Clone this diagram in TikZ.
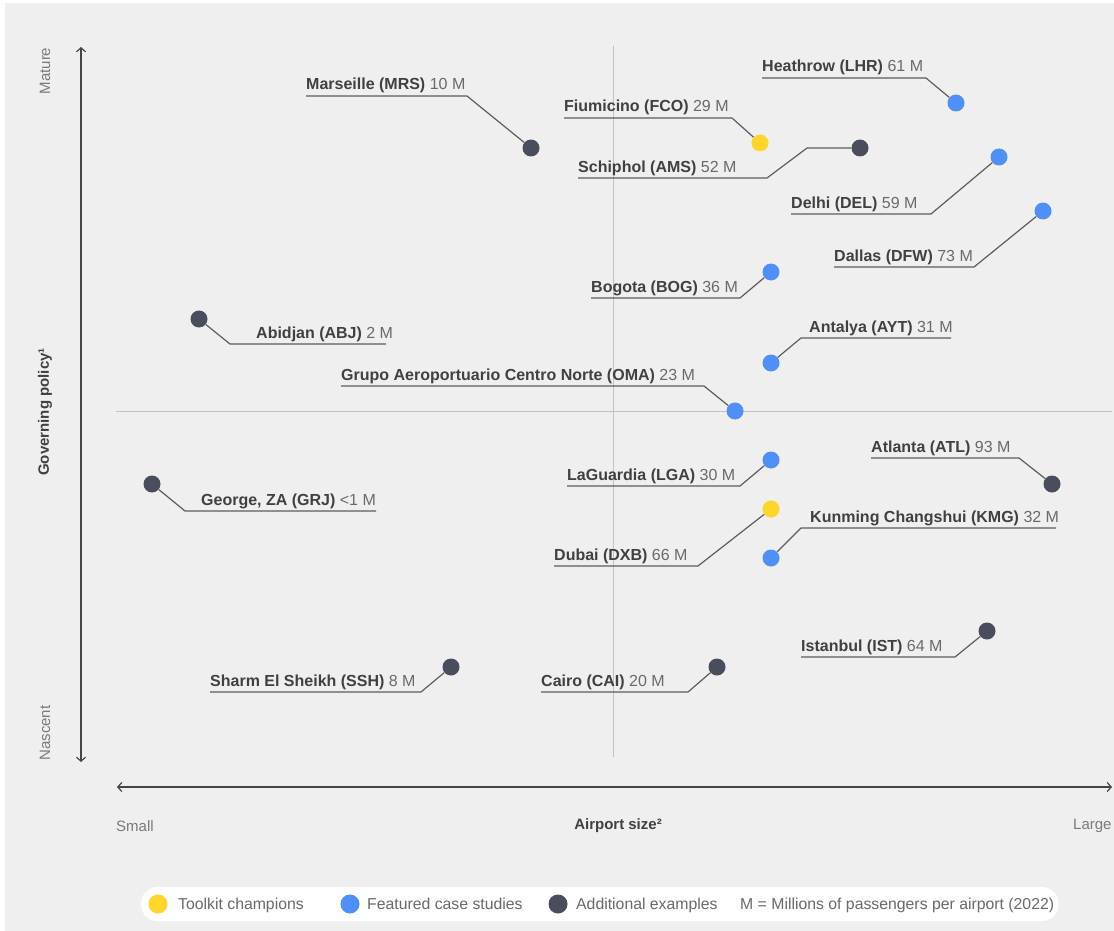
\documentclass[tikz,border=0pt]{standalone}
\usepackage{fontspec}
\setmainfont{Liberation Sans}
\usetikzlibrary{arrows.meta}
\definecolor{bgc}{HTML}{EFEFEF}
\definecolor{txtd}{HTML}{404040}
\definecolor{txtl}{HTML}{6A6A6A}
\definecolor{axtxt}{HTML}{7A7A7A}
\definecolor{leadc}{HTML}{5C5C5C}
\definecolor{axc}{HTML}{454545}
\definecolor{quadc}{HTML}{C2C2C2}
\definecolor{dotY}{HTML}{FFD52A}
\definecolor{dotB}{HTML}{4F8FF8}
\definecolor{dotD}{HTML}{4A4E5C}
\newcommand\aplabel[2]{{\color{txtd}\bfseries #1} {\color{txtl}#2}}
\tikzset{
  apdot/.style={circle,inner sep=0pt,minimum size=17pt},
  ydot/.style={apdot,fill=dotY},
  bdot/.style={apdot,fill=dotB},
  ddot/.style={apdot,fill=dotD},
  leader/.style={draw=leadc,line width=1.2pt},
  lbltext/.style={anchor=base west,inner sep=0pt,font=\fontsize{16}{19}\selectfont},
  axlabel/.style={inner sep=0pt,text=axtxt,font=\fontsize{15}{18}\selectfont},
  axarrow/.style={draw=axc,line width=1.2pt,{Straight Barb[length=4pt,width=9pt]}-{Straight Barb[length=4pt,width=9pt]}},
  quad/.style={draw=quadc,line width=1pt},
  legdot/.style={circle,inner sep=0pt,minimum size=19pt},
  legtext/.style={anchor=base west,inner sep=0pt,text=txtl,font=\fontsize{15.8}{18}\selectfont}
}
\begin{document}
\begin{tikzpicture}[x=1pt,y=-1pt]
\useasboundingbox (0,0) rectangle (1114,931);
\fill[white] (0,0) rectangle (1114,931);
\fill[bgc] (5,3) rectangle (1114,931);
% quadrant lines
\coordinate (qt) at (613,46); \coordinate (qb) at (613,757);
\coordinate (ql) at (116,411); \coordinate (qr) at (1112,411);
\draw[quad] (qt) -- (qb);
\draw[quad] (ql) -- (qr);
% axes
\coordinate (yt) at (81,47); \coordinate (yb) at (81,762);
\coordinate (xl) at (117,787); \coordinate (xr) at (1112,787);
\draw[axarrow] (yb) -- (yt);
\draw[axarrow] (xl) -- (xr);
\node[axlabel,rotate=90] (mature) at (45,71) {Mature};
\node[axlabel,rotate=90] (nascent) at (45,733) {Nascent};
\node[axlabel,rotate=90,text=txtd,font=\fontsize{15}{18}\selectfont\bfseries] (gov) at (45,412) {Governing policy¹};
\node[axlabel,anchor=west] (small) at (116,826) {Small};
\node[axlabel,anchor=west] (large) at (1073,826) {Large};
\node[axlabel,text=txtd,font=\fontsize{15}{18}\selectfont\bfseries] (size) at (618,826) {Airport size²};
% dots
\node[ddot] (mrs) at (531,148) {};
\node[bdot] (lhr) at (956,103) {};
\node[ydot] (fco) at (760,143) {};
\node[ddot] (ams) at (860,148) {};
\node[bdot] (del) at (999,157) {};
\node[bdot] (dfw) at (1043,211) {};
\node[bdot] (bog) at (771,272) {};
\node[ddot] (abj) at (199,319) {};
\node[bdot] (ayt) at (771,363) {};
\node[bdot] (oma) at (735,411) {};
\node[bdot] (lga) at (771,460) {};
\node[ddot] (atl) at (1052,484) {};
\node[ddot] (grj) at (152,484) {};
\node[ydot] (dxb) at (771,509) {};
\node[bdot] (kmg) at (771,558) {};
\node[ddot] (ist) at (987,631) {};
\node[ddot] (ssh) at (451,667) {};
\node[ddot] (cai) at (717,667) {};
% leader coordinates
\coordinate (mrsA) at (306,96); \coordinate (mrsB) at (467,96);
\coordinate (lhrA) at (762,78); \coordinate (lhrB) at (926,78);
\coordinate (fcoA) at (564,118); \coordinate (fcoB) at (732,118);
\coordinate (amsA) at (578,178); \coordinate (amsB) at (767,178); \coordinate (amsC) at (807,148);
\coordinate (delA) at (791,214); \coordinate (delB) at (931,214);
\coordinate (dfwA) at (834,267); \coordinate (dfwB) at (974,267);
\coordinate (bogA) at (591,298); \coordinate (bogB) at (740,298);
\coordinate (abjB) at (230,344); \coordinate (abjA) at (386,344);
\coordinate (aytB) at (801,338); \coordinate (aytA) at (951,338);
\coordinate (omaA) at (341,386); \coordinate (omaB) at (704,386);
\coordinate (lgaA) at (567,486); \coordinate (lgaB) at (740,486);
\coordinate (atlA) at (871,458); \coordinate (atlB) at (1019,458);
\coordinate (grjB) at (185,511); \coordinate (grjA) at (376,511);
\coordinate (dxbA) at (554,566); \coordinate (dxbB) at (698,566);
\coordinate (kmgB) at (801,528); \coordinate (kmgA) at (1056,528);
\coordinate (istA) at (801,657); \coordinate (istB) at (955,657);
\coordinate (sshA) at (210,692); \coordinate (sshB) at (421,692);
\coordinate (caiA) at (541,692); \coordinate (caiB) at (688,692);
% leaders
\draw[leader] (mrsA) -- (mrsB) -- (mrs);
\draw[leader] (lhrA) -- (lhrB) -- (lhr);
\draw[leader] (fcoA) -- (fcoB) -- (fco);
\draw[leader] (amsA) -- (amsB) -- (amsC) -- (ams);
\draw[leader] (delA) -- (delB) -- (del);
\draw[leader] (dfwA) -- (dfwB) -- (dfw);
\draw[leader] (bogA) -- (bogB) -- (bog);
\draw[leader] (abj) -- (abjB) -- (abjA);
\draw[leader] (ayt) -- (aytB) -- (aytA);
\draw[leader] (omaA) -- (omaB) -- (oma);
\draw[leader] (lgaA) -- (lgaB) -- (lga);
\draw[leader] (atlA) -- (atlB) -- (atl);
\draw[leader] (grj) -- (grjB) -- (grjA);
\draw[leader] (dxbA) -- (dxbB) -- (dxb);
\draw[leader] (kmg) -- (kmgB) -- (kmgA);
\draw[leader] (istA) -- (istB) -- (ist);
\draw[leader] (sshA) -- (sshB) -- (ssh);
\draw[leader] (caiA) -- (caiB) -- (cai);
% labels
\node[lbltext] (mrsL) at (306,90) {\aplabel{Marseille (MRS)}{10 M}};
\node[lbltext] (lhrL) at (762,72) {\aplabel{Heathrow (LHR)}{61 M}};
\node[lbltext] (fcoL) at (564,112) {\aplabel{Fiumicino (FCO)}{29 M}};
\node[lbltext] (amsL) at (578,172) {\aplabel{Schiphol (AMS)}{52 M}};
\node[lbltext] (delL) at (791,208) {\aplabel{Delhi (DEL)}{59 M}};
\node[lbltext] (dfwL) at (834,261) {\aplabel{Dallas (DFW)}{73 M}};
\node[lbltext] (bogL) at (591,292) {\aplabel{Bogota (BOG)}{36 M}};
\node[lbltext] (abjL) at (256,338) {\aplabel{Abidjan (ABJ)}{2 M}};
\node[lbltext] (aytL) at (809,332) {\aplabel{Antalya (AYT)}{31 M}};
\node[lbltext] (omaL) at (341,380) {\aplabel{Grupo Aeroportuario Centro Norte (OMA)}{23 M}};
\node[lbltext] (lgaL) at (567,480) {\aplabel{LaGuardia (LGA)}{30 M}};
\node[lbltext] (atlL) at (871,452) {\aplabel{Atlanta (ATL)}{93 M}};
\node[lbltext] (grjL) at (201,505) {\aplabel{George, ZA (GRJ)}{<1 M}};
\node[lbltext] (dxbL) at (554,560) {\aplabel{Dubai (DXB)}{66 M}};
\node[lbltext] (kmgL) at (810,522) {\aplabel{Kunming Changshui (KMG)}{32 M}};
\node[lbltext] (istL) at (801,651) {\aplabel{Istanbul (IST)}{64 M}};
\node[lbltext] (sshL) at (210,686) {\aplabel{Sharm El Sheikh (SSH)}{8 M}};
\node[lbltext] (caiL) at (541,686) {\aplabel{Cairo (CAI)}{20 M}};
% legend
\node[fill=white,rounded corners=16pt,minimum width=917pt,minimum height=34pt,inner sep=0pt,anchor=west] (legend) at (141,904) {};
\node[legdot,fill=dotY] (lg1) at (158,904) {};
\node[legtext] (lt1) at (178,909.5) {Toolkit champions};
\node[legdot,fill=dotB] (lg2) at (350,904) {};
\node[legtext] (lt2) at (367,909.5) {Featured case studies};
\node[legdot,fill=dotD] (lg3) at (558,904) {};
\node[legtext] (lt3) at (576,909.5) {Additional examples};
\node[legtext] (lt4) at (740,909.5) {M = Millions of passengers per airport (2022)};
\end{tikzpicture}
\end{document}
